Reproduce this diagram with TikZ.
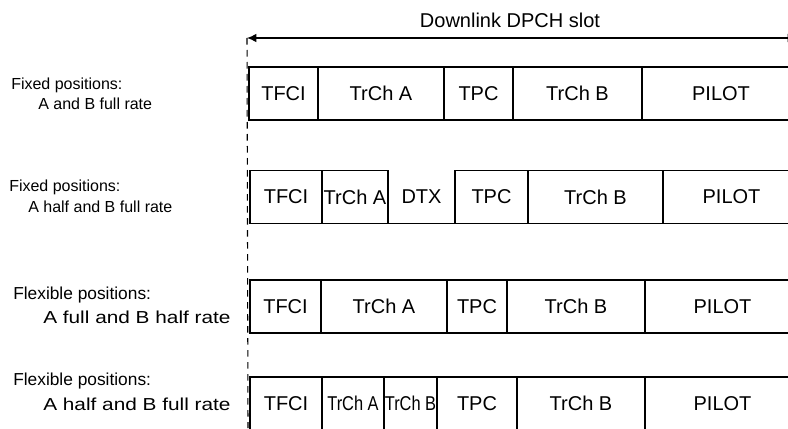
\documentclass[tikz,border=0pt]{standalone}
\usepackage{fontspec}
\setmainfont{Liberation Sans}
\usepackage{graphicx}
\usepackage{tikz}
\usetikzlibrary{arrows.meta,positioning}

\newcommand{\narrowtxt}[1]{\scalebox{0.82}[1]{#1}}
\newcommand{\widetxt}[1]{\scalebox{1.2}[1]{#1}}

\begin{document}
\begin{tikzpicture}[
    x=0.75pt, y=-0.75pt,
    field/.style={draw, line width=0.8pt, inner sep=0pt, minimum height=39.75pt, font=\fontsize{15}{18}\selectfont},
    gapfield/.style={inner sep=0pt, minimum height=39.75pt, font=\fontsize{15}{18}\selectfont},
    lbl/.style={anchor=west, inner sep=0pt, font=\fontsize{12}{14}\selectfont},
    lblx/.style={lbl, font=\fontsize{13}{15}\selectfont},
    slotarr/.style={{Latex[length=7pt,width=6.5pt]}-{Latex[length=7pt,width=6.5pt]}, line width=1pt},
    guide/.style={line width=0.8pt, dash pattern=on 5pt off 4pt}
]
\useasboundingbox (0,0) rectangle (788,428);
\clip (0,0) rectangle (788,428);

% slot length
\node[font=\fontsize{15}{18}\selectfont] (title) at (510,20) {Downlink DPCH slot};
\coordinate (slotL) at (247,38);
\coordinate (slotR) at (797,38);
\draw[slotarr] (slotL) -- (slotR);
\coordinate (guideend) at (248,428);
\draw[guide] (slotL) -- (guideend);

% row 1
\foreach \xa/\xb/\txt/\nm in {249/318/TFCI/a, 318/444/TrCh A/b, 444/513/TPC/c, 513/642/TrCh B/d, 642/800/PILOT/e}
  \node[field, minimum width={(\xb-\xa)*0.75pt}] (r1\nm) at ({(\xa+\xb)/2},93.5) {\txt};
\node[lbl] (l1a) at (11,85) {Fixed positions:};
\node[lbl] (l1b) at (38,104) {A and B full rate};

% row 2
\foreach \xa/\xb/\txt/\nm in {250/322/TFCI/a, 322/388/TrCh A/b, 455/528/TPC/d, 528/663/TrCh B/e, 663/800/PILOT/f}
  \node[field, minimum width={(\xb-\xa)*0.75pt}] (r2\nm) at ({(\xa+\xb)/2},197) {\txt};
\node[gapfield, minimum width=50.25pt] (r2c) at (421.5,197) {DTX};
\draw[line width=0.8pt] (r2c.south west) -- (r2c.south east);
\node[lbl] (l2a) at (9,187) {Fixed positions:};
\node[lbl] (l2b) at (28,207) {A half and B full rate};

% row 3
\foreach \xa/\xb/\txt/\nm in {250/321/TFCI/a, 321/447/TrCh A/b, 447/507/TPC/c, 507/645/TrCh B/d, 645/800/PILOT/e}
  \node[field, minimum width={(\xb-\xa)*0.75pt}] (r3\nm) at ({(\xa+\xb)/2},306.5) {\txt};
\node[lblx] (l3a) at (13,295) {Flexible positions:};
\node[lblx] (l3b) at (43,317) {\widetxt{A full and B half rate}};

% row 4
\foreach \xa/\xb/\txt/\nm in {250/322/TFCI/a, 322/384/\narrowtxt{TrCh A}/b, 384/437/\narrowtxt{TrCh B}/c, 437/517/TPC/d, 517/645/TrCh B/e, 645/800/PILOT/f}
  \node[field, minimum width={(\xb-\xa)*0.75pt}] (r4\nm) at ({(\xa+\xb)/2},403.5) {\txt};
\node[lblx] (l4a) at (13,381) {Flexible positions:};
\node[lblx] (l4b) at (43,404) {\widetxt{A half and B full rate}};
\end{tikzpicture}
\end{document}
